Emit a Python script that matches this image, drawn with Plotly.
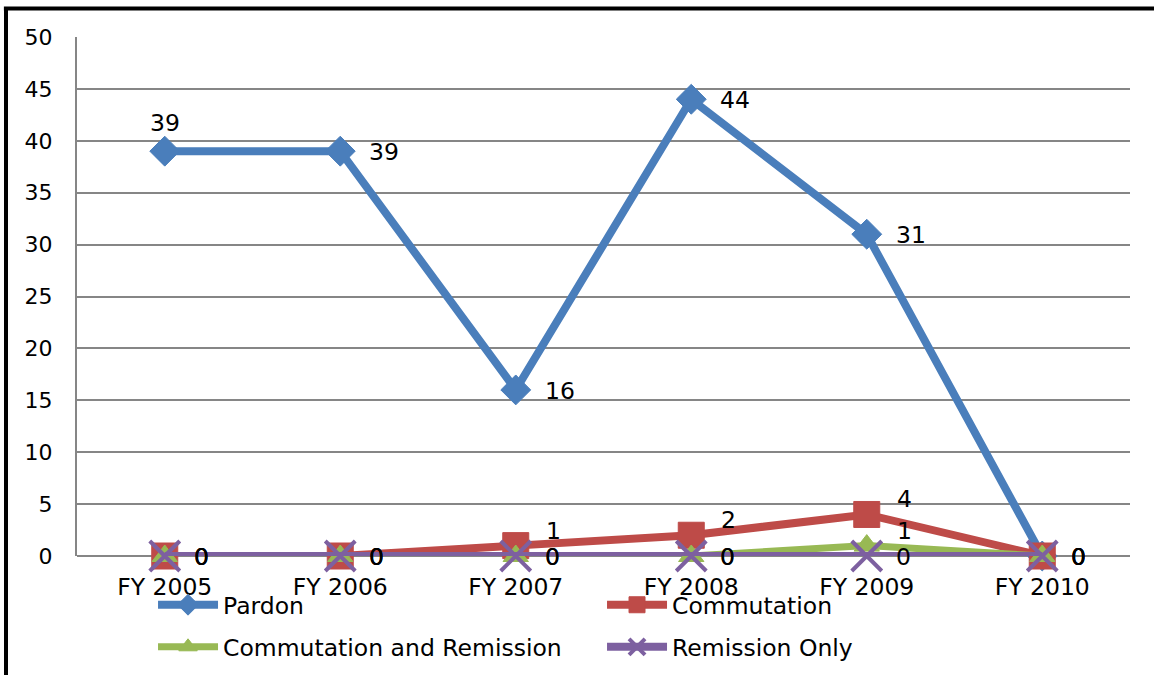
import plotly.graph_objects as go

categories = ["FY 2005", "FY 2006", "FY 2007", "FY 2008", "FY 2009", "FY 2010"]
pardon = [39, 39, 16, 44, 31, 0]
commutation = [0, 0, 1, 2, 4, 0]
comm_remission = [0, 0, 0, 0, 1, 0]
remission_only = [0, 0, 0, 0, 0, 0]

FONT = "DejaVu Sans"
FS = 23.5
fig = go.Figure()

series = [
    ("Pardon", pardon, "#4A7EBB", dict(symbol="diamond", size=23), "legend"),
    ("Commutation", commutation, "#BE4B48", dict(symbol="square", size=26), "legend"),
    ("Commutation and Remission", comm_remission, "#98B954", dict(symbol="triangle-up", size=22), "legend2"),
    ("Remission Only", remission_only, "#7D60A0", dict(symbol="x-thin", size=30), "legend2"),
]

for name, vals, color, mk, leg in series:
    marker = dict(color=color, **mk)
    if mk["symbol"] == "x-thin":
        marker["line"] = dict(width=4, color=color)
    else:
        marker["line"] = dict(width=1, color=color)
    fig.add_trace(go.Scatter(
        x=categories, y=vals, name=name, mode="lines+markers",
        line=dict(color=color, width=8 if name != "Commutation and Remission" else 7),
        marker=marker, cliponaxis=False, legend=leg,
    ))

# data labels, drawn at each data point
for name, vals, color, mk, leg in series:
    for i, (cat, v) in enumerate(zip(categories, vals)):
        if name == "Pardon" and i == 0:
            xs, ys, xa = 0, 28, "center"
        elif v > 0 and name != "Pardon":
            xs, ys, xa = 28, 15, "left"
        else:
            xs, ys, xa = 27, -1, "left"
        fig.add_annotation(x=cat, y=v, text=str(v), showarrow=False,
                           xanchor=xa, yanchor="middle", xshift=xs, yshift=ys,
                           font=dict(family=FONT, size=FS, color="black"))

leg_common = dict(orientation="h", x=0.0722, xanchor="left", yanchor="top",
                  entrywidth=374, entrywidthmode="pixels", itemwidth=60,
                  font=dict(family=FONT, size=FS, color="black"),
                  bgcolor="rgba(0,0,0,0)")

fig.update_layout(
    width=1154, height=675,
    margin=dict(l=77, r=24, t=37, b=119, autoexpand=False),
    paper_bgcolor="white", plot_bgcolor="white",
    font=dict(family=FONT, size=FS, color="black"),
    showlegend=True,
    legend=dict(y=-0.052, **leg_common),
    legend2=dict(y=-0.133, **leg_common),
    xaxis=dict(type="category", range=[-0.5, 5.5], showgrid=False,
               showline=False, zeroline=False, ticks="",
               ticklabelstandoff=14,
               tickfont=dict(family=FONT, size=FS, color="black")),
    yaxis=dict(range=[0, 50], dtick=5, tick0=0, showgrid=True,
               gridcolor="#868686", gridwidth=2, zeroline=True,
               zerolinecolor="#868686", zerolinewidth=2,
               showline=True, linecolor="#868686", linewidth=2,
               ticks="", ticklabelstandoff=18,
               tickfont=dict(family=FONT, size=22, color="black")),
)

# outer frame (top and left black lines)
x_left = (6 - 77) / 1053
y_top = (556 - 8.5) / 519
y_bot = (556 - 675) / 519
x_right = (1154 - 77) / 1053
fig.add_shape(type="line", xref="paper", yref="paper", x0=x_left - 0.002, x1=x_right,
              y0=y_top, y1=y_top, line=dict(color="black", width=4))
fig.add_shape(type="line", xref="paper", yref="paper", x0=x_left, x1=x_left,
              y0=y_top, y1=y_bot, line=dict(color="black", width=4))

fig.write_html("out.html", config={"displayModeBar": False},
               post_script="document.body.style.margin='0';")
